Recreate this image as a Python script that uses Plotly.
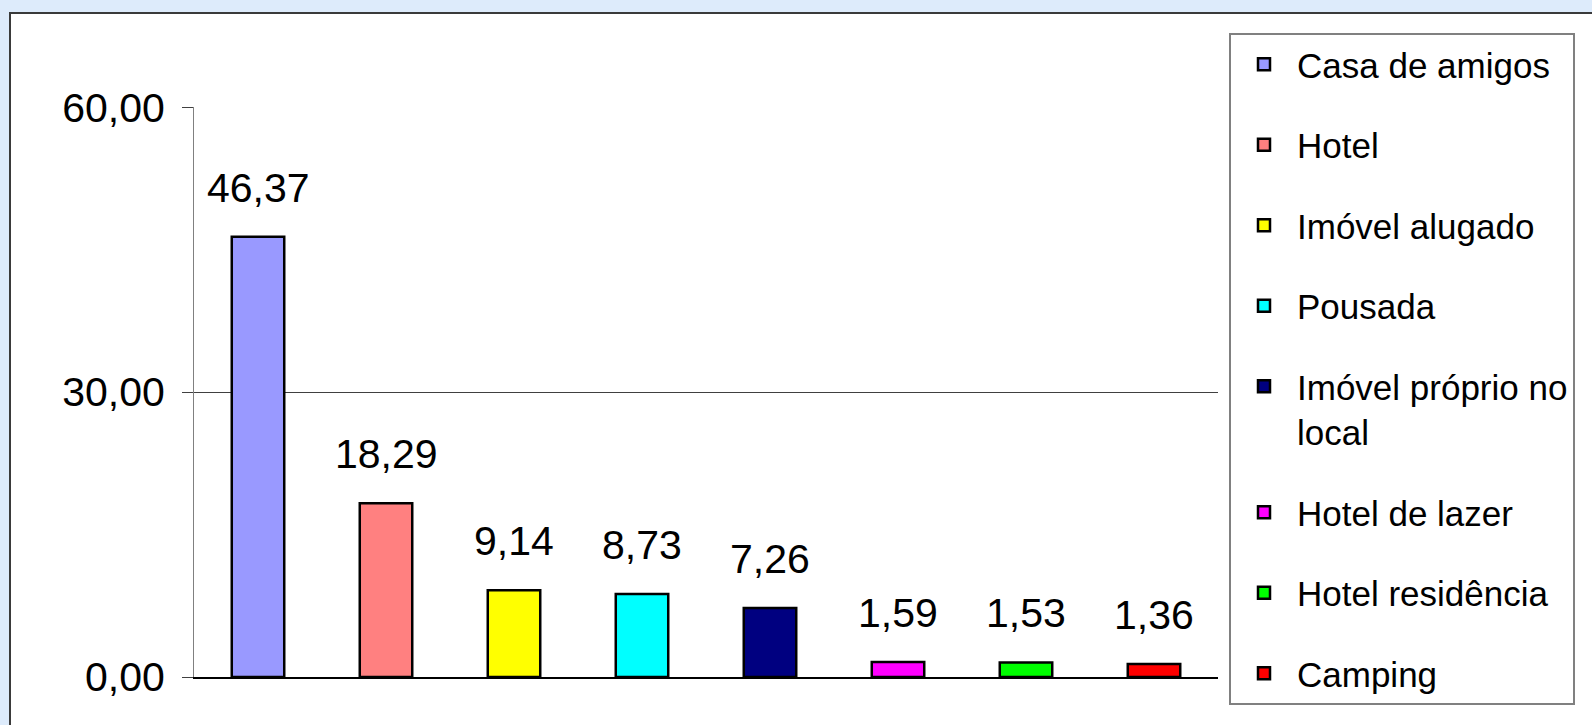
"""Hospedagem: distribuicao percentual por tipo de alojamento."""

import plotly.graph_objects as go

categorias = [
    "Casa de amigos",
    "Hotel",
    "Imóvel alugado",
    "Pousada",
    "Imóvel próprio no<br>local",
    "Hotel de lazer",
    "Hotel residência",
    "Camping",
]
valores = [46.37, 18.29, 9.14, 8.73, 7.26, 1.59, 1.53, 1.36]
cores = [
    "#9999FF",  # lilas
    "#FF8080",  # salmao
    "#FFFF00",  # amarelo
    "#00FFFF",  # ciano
    "#000080",  # azul marinho
    "#FF00FF",  # magenta
    "#00FF00",  # verde
    "#FF0000",  # vermelho
]
y_ticks = [0, 30, 60]

FONT = "Liberation Sans, Arial, sans-serif"

# plot area in pixels (1592 x 725 page)
L, R, T, B = 194, 1218, 107, 677
W, H = 1592, 725
pw, ph = R - L, B - T


def px_x(x):
    return (x - L) / pw


def px_y(y):
    return (B - y) / ph


fig = go.Figure()
for i, (cat, val, cor) in enumerate(zip(categorias, valores, cores)):
    fig.add_trace(go.Bar(
        x=[i], y=[val], name=cat,
        legendgroup=f"g{i}",
        marker=dict(color=cor, line=dict(color="#000000", width=2.5)),
        width=0.41,
        hoverinfo="skip",
    ))
    # rotulo de valor acima da barra
    fig.add_annotation(
        x=i, y=val, text=f"{val:.2f}".replace(".", ","),
        showarrow=False, xanchor="center", yanchor="bottom", yshift=24,
        font=dict(family=FONT, size=41, color="#000000"),
    )

# white chart area with dark frame over the light blue page
fig.add_shape(
    type="rect", xref="paper", yref="paper", layer="below",
    x0=px_x(10), x1=px_x(W + 20), y0=px_y(H + 20), y1=px_y(13),
    fillcolor="#FFFFFF", line=dict(color="#3A3A3A", width=2),
)

fig.update_layout(
    width=W, height=H,
    margin=dict(l=L, r=W - R, t=T, b=H - B, autoexpand=False),
    paper_bgcolor="#DDEBFB",
    plot_bgcolor="rgba(0,0,0,0)",
    font=dict(family=FONT, color="#000000"),
    barmode="overlay",
    showlegend=True,
    legend=dict(
        x=px_x(1229), y=px_y(33), xanchor="left", yanchor="top",
        bgcolor="#FFFFFF", bordercolor="#808080", borderwidth=2,
        font=dict(family=FONT, size=35, color="#000000"),
        tracegroupgap=32, valign="top",
        itemwidth=56,
        maxheight=700,
    ),
    xaxis=dict(
        range=[-0.5, len(categorias) - 0.5],
        showticklabels=False, showgrid=False, zeroline=False,
        showline=True, linecolor="#000000", linewidth=1.5,
        ticks="",
    ),
    yaxis=dict(
        range=[0, 60.02], tickvals=y_ticks,
        tickformat=".2f",
        showgrid=True, gridcolor="#404040", gridwidth=1,
        zeroline=False,
        showline=True, linecolor="#808080", linewidth=1,
        ticks="outside", ticklen=11, tickcolor="#404040",
        ticklabelstandoff=9,
        tickfont=dict(family=FONT, size=41, color="#000000"),
    ),
    separators=",.",
)

fig.write_html(
    "out.html",
    config={"displayModeBar": False},
    post_script="document.body.style.margin='0';"
                "document.body.style.background='#DDEBFB';",
)
